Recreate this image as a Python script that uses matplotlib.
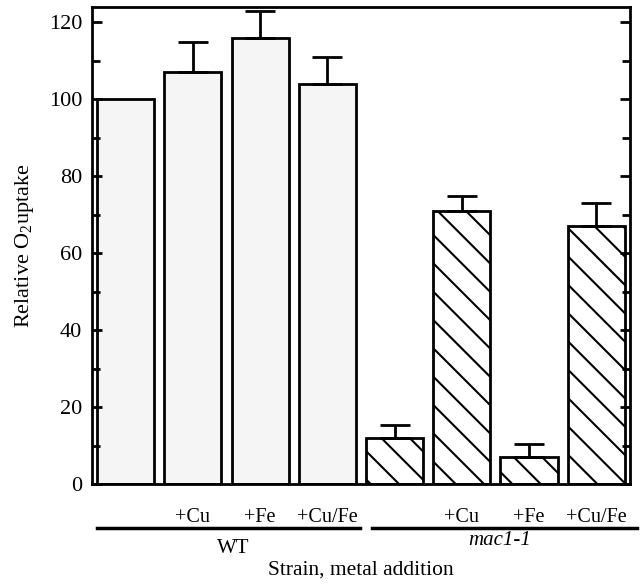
import matplotlib.pyplot as plt
from matplotlib.ticker import MultipleLocator

# render at a lower dpi so the hatch spacing matches the scan; k keeps sizes in "100 dpi" terms
DPI = 85
k = 100 / DPI

plt.rcParams['font.family'] = ['Liberation Serif', 'DejaVu Serif']
plt.rcParams['mathtext.fontset'] = 'custom'
plt.rcParams['mathtext.rm'] = 'Liberation Serif'
plt.rcParams['hatch.linewidth'] = 1.5 * k

# values
strains = ["WT", "mac1-1"]
metals = ["", "+Cu", "+Fe", "+Cu/Fe"]
wt_uptake = [100, 107, 116, 104]
wt_err = [0, 8, 7, 7]
mac_uptake = [12, 71, 7, 67]
mac_err = [3.5, 4, 3.5, 6]

fig = plt.figure(figsize=(644 / DPI, 587 / DPI), dpi=DPI)
ax = fig.add_axes([0.143, 0.175, 0.835, 0.813])

x_wt = [0, 1, 2, 3]
x_mac = [4, 5, 6, 7]
w = 0.85
ax.bar(x_wt, wt_uptake, width=w, color="#f5f5f5", edgecolor="black", linewidth=2 * k)
ax.bar(x_mac, mac_uptake, width=w, color="white", edgecolor="black", linewidth=2 * k, hatch="\\")

err_kw = dict(fmt="none", ecolor="black", elinewidth=2 * k, capsize=11 * k, capthick=2 * k)
ax.errorbar(x_wt[1:], wt_uptake[1:], yerr=[[0] * 3, wt_err[1:]], **err_kw)
ax.errorbar(x_mac, mac_uptake, yerr=[[0] * 4, mac_err], **err_kw)

ax.set_xlim(-0.5, 7.5)
ax.set_ylim(0, 124)
ax.yaxis.set_major_locator(MultipleLocator(20))
ax.yaxis.set_minor_locator(MultipleLocator(10))
ax.tick_params(axis="y", which="both", direction="in", right=True, width=2 * k,
               labelsize=16 * k, pad=7 * k)
ax.tick_params(axis="y", which="major", length=7 * k)
ax.tick_params(axis="y", which="minor", length=6 * k)
for s in ax.spines.values():
    s.set_linewidth(2 * k)

ax.set_xticks(x_wt + x_mac)
ax.set_xticklabels(metals + metals, fontsize=14.5 * k)
ax.tick_params(axis="x", length=0, pad=17 * k)

# group underlines and strain names
xt = ax.get_xaxis_transform()
ax.plot([-0.42, 3.48], [-0.092, -0.092], color="black", lw=2.5 * k, transform=xt, clip_on=False)
ax.plot([3.66, 7.6], [-0.092, -0.092], color="black", lw=2.5 * k, transform=xt, clip_on=False)
ax.text(1.6, -0.135, strains[0], transform=xt, ha="center", va="center", fontsize=15 * k)
ax.text(5.56, -0.118, strains[1], transform=xt, ha="center", va="center",
        fontsize=15 * k, style="italic")

ax.set_xlabel("Strain, metal addition", fontsize=15.5 * k, labelpad=24 * k)
ax.set_ylabel("Relative O$_2$uptake", fontsize=16 * k, labelpad=9 * k)

fig.savefig("out.png", dpi=DPI)
